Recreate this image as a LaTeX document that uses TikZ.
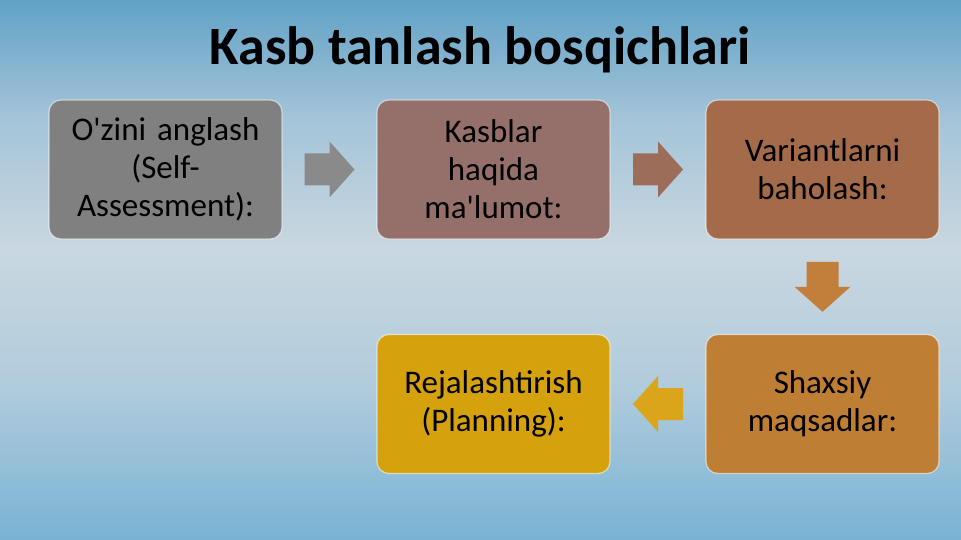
\documentclass[tikz,border=0pt]{standalone}
\usepackage{fontspec}
\setmainfont{Carlito}
\usetikzlibrary{calc}
\definecolor{sk0}{HTML}{62A2C7}
\definecolor{sk1}{HTML}{A4C4D8}
\definecolor{sk2}{HTML}{C9D7E0}
\definecolor{sk3}{HTML}{B0CBDC}
\definecolor{sk4}{HTML}{78B3D3}
\definecolor{cgray}{HTML}{808080}
\definecolor{cmauve}{HTML}{956F69}
\definecolor{cbrown}{HTML}{A36B4A}
\definecolor{corange}{HTML}{BE7E34}
\definecolor{cgold}{HTML}{D5A10C}
\definecolor{agray}{HTML}{8A8A8A}
\definecolor{abrown}{HTML}{9C6D58}
\definecolor{aorange}{HTML}{C27F3C}
\definecolor{agold}{HTML}{DAA51B}
% the path fills the band 25bp..75bp of the shading
\pgfdeclareverticalshading{sky}{100bp}{color(0bp)=(sk4); color(25bp)=(sk4); color(39bp)=(sk3); color(52bp)=(sk2); color(64bp)=(sk1); color(75bp)=(sk0); color(100bp)=(sk0)}
\tikzset{
  stepbox/.style={rounded corners=12pt, draw=white, draw opacity=0.55, line width=1.2pt,
    minimum width=233pt, minimum height=139pt, inner sep=4pt, text width=222pt,
    align=center, font=\fontsize{33}{38}\selectfont, text=black},
}
\newcommand\barrow[3]{% center, angle, colour
  \fill[#3, shift={(#1)}, rotate=#2] (-25,-16) -- (0,-16) -- (0,-28) -- (25,0) -- (0,28) -- (0,16) -- (-25,16) -- cycle;}
\begin{document}
\begin{tikzpicture}[x=1pt,y=-1pt]
\useasboundingbox (0,0) rectangle (961,540);
\shade[shading=sky] (0,0) rectangle (961,540);

\node[font=\bfseries\fontsize{54}{60}\selectfont] (title) at (480,50) {Kasb tanlash bosqichlari};

\node[stepbox, fill=cgray]   (b1) at (165.5,169.5) {O\textquotesingle zini anglash\\(Self-\\Assessment):};
\node[stepbox, fill=cmauve]  (b2) at (493.5,169.5) {Kasblar\\haqida\\ma\textquotesingle lumot:};
\node[stepbox, fill=cbrown]  (b3) at (822.5,169.5) {Variantlarni\\baholash:};
\node[stepbox, fill=corange] (b4) at (822.5,404)   {Shaxsiy\\maqsadlar:};
\node[stepbox, fill=cgold]   (b5) at (493.5,404)   {Rejalashtirish\\(Planning):};

\coordinate (a1) at ($(b1.east)!0.5!(b2.west)$);
\coordinate (a2) at ($(b2.east)!0.5!(b3.west)$);
\coordinate (a3) at ($(b3.south)!0.5!(b4.north)$);
\coordinate (a4) at ($(b4.west)!0.5!(b5.east)$);
\barrow{a1}{0}{agray}
\barrow{a2}{0}{abrown}
\barrow{a3}{-90}{aorange}
\barrow{a4}{180}{agold}
\end{tikzpicture}
\end{document}
